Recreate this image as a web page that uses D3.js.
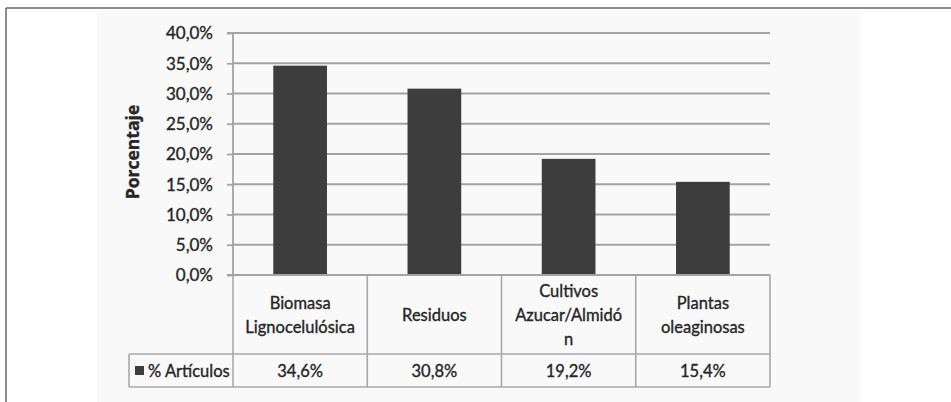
<!DOCTYPE html>
<html>
<head>
<meta charset="utf-8">
<script src="https://cdn.jsdelivr.net/npm/d3@7"></script>
<style>
  html, body { margin: 0; padding: 0; background: #fff; }
  svg { display: block; }
  text { font-family: Lato, "Open Sans", sans-serif; fill: #262626; stroke: #262626; stroke-width: 0.35px; }
</style>
</head>
<body>
<svg id="chart" width="951" height="402"></svg>
<script>
// Biomass feedstock categories and share of articles
const categories = ["Biomasa Lignocelulósica", "Residuos", "Cultivos Azucar/Almidón", "Plantas oleaginosas"];
const categoryLines = [
  ["Biomasa", "Lignocelulósica"],
  ["Residuos"],
  ["Cultivos", "Azucar/Almidó", "n"],
  ["Plantas", "oleaginosas"]
];
const values = [0.346, 0.308, 0.192, 0.154];
const seriesName = "% Artículos";
const yTicks = [0, 0.05, 0.10, 0.15, 0.20, 0.25, 0.30, 0.35, 0.40];
const yTitle = "Porcentaje";

const es = d3.formatLocale({ decimal: ",", thousands: ".", grouping: [3], currency: ["", " €"] });
const pct = es.format(".1%");

const svg = d3.select("#chart");
const gridColor = "#a3a3a3";
const tableColor = "#a8a8a8";
const barColor = "#3d3d3d";

// page frame and chart area
svg.append("rect").attr("x", 97).attr("y", 10).attr("width", 763).attr("height", 392).attr("fill", "#f9f9f9");
svg.append("line").attr("x1", 6).attr("x2", 951).attr("y1", 8).attr("y2", 8).attr("stroke", "#666").attr("stroke-width", 1.5);
svg.append("line").attr("x1", 6).attr("x2", 6).attr("y1", 8).attr("y2", 402).attr("stroke", "#666").attr("stroke-width", 1.5);

const x = d3.scaleBand().domain(categories).range([233, 770]).paddingInner(0).paddingOuter(0);
const y = d3.scaleLinear().domain([0, 0.4]).range([275, 33]);

// gridlines
svg.append("g").selectAll("line").data(yTicks.slice(1)).join("line")
  .attr("x1", 233).attr("x2", 770)
  .attr("y1", d => y(d)).attr("y2", d => y(d))
  .attr("stroke", gridColor).attr("stroke-width", 1.8);

// y axis
const yAxis = svg.append("g").attr("transform", "translate(233,0)")
  .call(d3.axisLeft(y).tickValues(yTicks).tickSize(6).tickPadding(14).tickFormat(pct));
yAxis.select(".domain").attr("stroke", gridColor).attr("stroke-width", 1.8).attr("d", `M-6,${y(0.4)}H0V${y(0)}`);
yAxis.selectAll(".tick line").attr("stroke", gridColor).attr("stroke-width", 1.8);
yAxis.selectAll(".tick text").attr("font-size", 17)
  .attr("fill", "#262626").attr("dy", "0.34em");

// y axis title
svg.append("text")
  .attr("transform", `translate(139,152) rotate(-90)`)
  .attr("text-anchor", "middle")
  .style("font-family", "'Open Sans', sans-serif")
  .style("font-size", "17.5px").style("font-weight", "bold")
  .text(yTitle);

// bars
const barW = x.bandwidth() * 0.4;
svg.append("g").selectAll("rect").data(values).join("rect")
  .attr("x", (d, i) => x(categories[i]) + (x.bandwidth() - barW) / 2)
  .attr("y", d => y(d))
  .attr("width", barW)
  .attr("height", d => y(0) - y(d))
  .attr("fill", barColor);

// data table
const rowTop = y(0), rowMid = 354, rowBot = 387;
const tbl = svg.append("g").attr("stroke", tableColor).attr("stroke-width", 1.6).attr("fill", "none");
tbl.append("line").attr("x1", 227).attr("x2", 770).attr("y1", rowTop).attr("y2", rowTop).attr("stroke", gridColor).attr("stroke-width", 1.8);
tbl.append("line").attr("x1", 129).attr("x2", 770).attr("y1", rowMid).attr("y2", rowMid);
tbl.append("line").attr("x1", 129).attr("x2", 770).attr("y1", rowBot).attr("y2", rowBot);
tbl.append("line").attr("x1", 129).attr("x2", 129).attr("y1", rowMid).attr("y2", rowBot);
tbl.selectAll("line.v").data(categories.concat([null])).join("line")
  .attr("class", "v")
  .attr("x1", d => d === null ? x.range()[1] : x(d))
  .attr("x2", d => d === null ? x.range()[1] : x(d))
  .attr("y1", rowTop).attr("y2", rowBot);

// category labels
const lineH = 24;
const labelG = svg.append("g").selectAll("text").data(categoryLines).join("text")
  .attr("text-anchor", "middle").attr("font-size", 16.5)
  .attr("x", (d, i) => x(categories[i]) + x.bandwidth() / 2)
  .attr("y", d => (rowTop + rowMid) / 2 - (d.length - 1) * lineH / 2 + 6);
labelG.selectAll("tspan").data(d => d).join("tspan")
  .attr("x", function () { return this.parentNode.getAttribute("x"); })
  .attr("dy", (d, j) => j === 0 ? 0 : lineH)
  .text(d => d);

// value row
svg.append("g").selectAll("text").data(values).join("text")
  .attr("text-anchor", "middle").attr("font-size", 16.5)
  .attr("x", (d, i) => x(categories[i]) + x.bandwidth() / 2)
  .attr("y", (rowMid + rowBot) / 2 + 6)
  .text(d => pct(d));

// legend key in the table
svg.append("rect").attr("x", 135).attr("y", 366).attr("width", 9).attr("height", 9).attr("fill", barColor);
svg.append("text").attr("x", 148).attr("y", (rowMid + rowBot) / 2 + 6).attr("font-size", 16.5).text(seriesName);
</script>
</body>
</html>
